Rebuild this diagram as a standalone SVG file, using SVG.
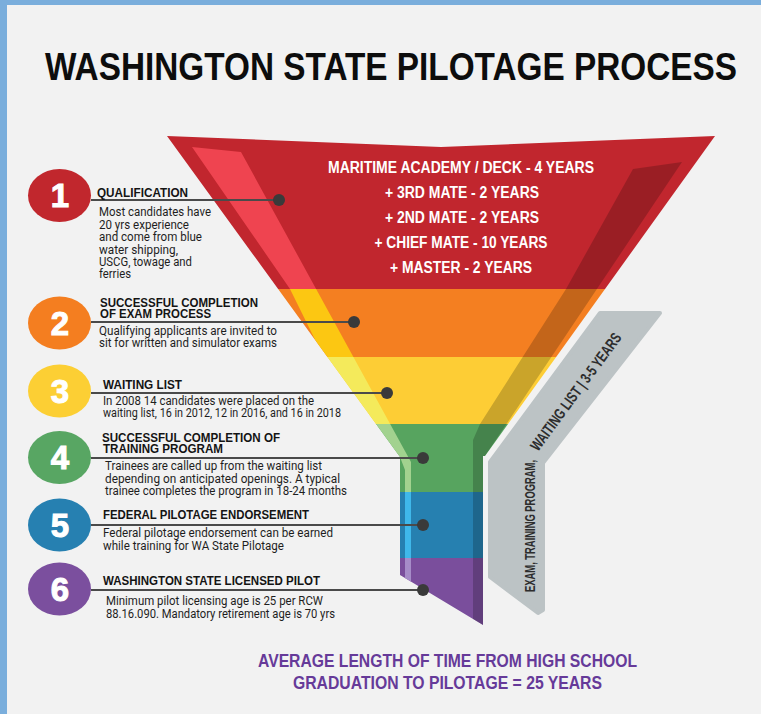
<svg xmlns="http://www.w3.org/2000/svg" width="761" height="714" viewBox="0 0 761 714">
<defs>
<style>
.hd{font-family:"Liberation Sans",Arial,sans-serif;font-weight:bold;font-size:12.5px;fill:#141414}
.ds{font-family:Roboto,"Liberation Sans",Arial,sans-serif;font-size:12px;fill:#1e1e1e}
.num{font-family:"Liberation Sans",Arial,sans-serif;font-weight:bold;font-size:33px;fill:#fff;text-anchor:middle;stroke:#fff;stroke-width:1}
.ft{font-family:"Liberation Sans",Arial,sans-serif;font-weight:bold;font-size:16px;fill:#fff;text-anchor:middle}
.gt{font-family:"Liberation Sans",Arial,sans-serif;font-weight:bold;font-size:15.5px;fill:#2d2d2d}
.ln{stroke:#4a4a4a;stroke-width:1.8;fill:none}
.dot{fill:#3a3a3a}
</style>
<clipPath id="funnelClip"><path d="M167,136 L441,147 L715,136 L485,456 L483,456 L483,625 L400,575 L400,457 Z"/></clipPath>
<clipPath id="b1"><rect x="150" y="120" width="600" height="169"/></clipPath>
<clipPath id="b2"><rect x="150" y="289" width="600" height="68"/></clipPath>
<clipPath id="b3"><rect x="150" y="357" width="600" height="67"/></clipPath>
<clipPath id="b4"><rect x="150" y="424" width="600" height="68"/></clipPath>
<clipPath id="b5"><rect x="150" y="492" width="600" height="66"/></clipPath>
<clipPath id="b6"><rect x="150" y="558" width="600" height="90"/></clipPath>
<path id="hl" d="M192,147 L241,152 L411,462 L411,640 L405,640 L405,470 L400,457 L330,370 L290,289 Z"/>
</defs>

<rect x="0" y="0" width="761" height="714" fill="#f2f2f2"/>
<rect x="0" y="0" width="761" height="5" fill="#7aaedc"/>
<rect x="0" y="0" width="7" height="714" fill="#7aaedc"/>

<text id="title" transform="translate(45,80) scale(0.8,1)" x="0" y="0" textLength="865" lengthAdjust="spacingAndGlyphs" style="font-family:'Liberation Sans',Arial,sans-serif;font-weight:bold;font-size:39px;fill:#0d0d0d">WASHINGTON STATE PILOTAGE PROCESS</text>

<g id="funnel" clip-path="url(#funnelClip)">
  <rect x="150" y="120" width="600" height="169" fill="#c1262e"/>
  <rect x="150" y="289" width="600" height="68" fill="#f47f21"/>
  <rect x="150" y="357" width="600" height="67" fill="#fdcd35"/>
  <rect x="150" y="424" width="600" height="68" fill="#57a45f"/>
  <rect x="150" y="492" width="600" height="66" fill="#2680b0"/>
  <rect x="150" y="558" width="600" height="90" fill="#7a4e9c"/>
  <use href="#hl" fill="#ef4450" clip-path="url(#b1)"/>
  <use href="#hl" fill="#fcc712" clip-path="url(#b2)"/>
  <use href="#hl" fill="#f4ea5b" clip-path="url(#b3)"/>
  <use href="#hl" fill="#a2d28f" clip-path="url(#b4)"/>
  <use href="#hl" fill="#3fb8ea" clip-path="url(#b5)"/>
  <use href="#hl" fill="#a68cc8" clip-path="url(#b6)"/>
  <path d="M633,169 L682,162 L485,456 L483,640 L473,640 L473,440 L480,424 L566,289 Z" fill="#000" fill-opacity="0.2"/>
  <text class="ft" x="461" y="173" textLength="266" lengthAdjust="spacingAndGlyphs">MARITIME ACADEMY / DECK - 4 YEARS</text>
  <text class="ft" x="462" y="198" textLength="154" lengthAdjust="spacingAndGlyphs">+ 3RD MATE - 2 YEARS</text>
  <text class="ft" x="462" y="223" textLength="154" lengthAdjust="spacingAndGlyphs">+ 2ND MATE - 2 YEARS</text>
  <text class="ft" x="461" y="248" textLength="173" lengthAdjust="spacingAndGlyphs">+ CHIEF MATE - 10 YEARS</text>
  <text class="ft" x="461" y="273" textLength="142" lengthAdjust="spacingAndGlyphs">+ MASTER - 2 YEARS</text>
</g>

<g id="duration-bar">
  <path d="M600,313 L660,313 L543,463 L543,610 L538,613 L490,577 L490,462 Z" fill="#bcc3c5" stroke="#bcc3c5" stroke-width="4" stroke-linejoin="round"/>
  <text class="gt" transform="translate(535,592) rotate(-90)" textLength="132" lengthAdjust="spacingAndGlyphs">EXAM, TRAINING PROGRAM,</text>
  <text class="gt" transform="translate(538,452) rotate(-53.6)" textLength="142" lengthAdjust="spacingAndGlyphs">WAITING LIST | 3-5 YEARS</text>
</g>

<g id="connectors">
  <line class="ln" x1="91" y1="200" x2="279" y2="200"/><circle class="dot" cx="279" cy="200" r="6"/>
  <line class="ln" x1="91" y1="322" x2="354" y2="322"/><circle class="dot" cx="354" cy="322" r="6"/>
  <line class="ln" x1="91" y1="393" x2="387" y2="393"/><circle class="dot" cx="387" cy="393" r="6"/>
  <line class="ln" x1="91" y1="458" x2="423" y2="458"/><circle class="dot" cx="423" cy="458" r="6"/>
  <line class="ln" x1="91" y1="525" x2="423" y2="525"/><circle class="dot" cx="423" cy="525" r="6"/>
  <line class="ln" x1="91" y1="590" x2="423" y2="590"/><circle class="dot" cx="423" cy="590" r="6"/>
</g>

<g id="node-1">
  <ellipse cx="59.5" cy="195.5" rx="31.5" ry="26.5" fill="#c1272d"/>
  <text class="num" x="60" y="207">1</text>
  <text class="hd" x="97" y="197" textLength="91" lengthAdjust="spacingAndGlyphs">QUALIFICATION</text>
  <text class="ds" x="99" y="216" textLength="112" lengthAdjust="spacingAndGlyphs">Most candidates have</text>
  <text class="ds" x="99" y="228.5" textLength="90" lengthAdjust="spacingAndGlyphs">20 yrs experience</text>
  <text class="ds" x="99" y="241" textLength="103" lengthAdjust="spacingAndGlyphs">and come from blue</text>
  <text class="ds" x="99" y="253.5" textLength="79" lengthAdjust="spacingAndGlyphs">water shipping,</text>
  <text class="ds" x="99" y="266" textLength="93" lengthAdjust="spacingAndGlyphs">USCG, towage and</text>
  <text class="ds" x="99" y="278" textLength="32" lengthAdjust="spacingAndGlyphs">ferries</text>
</g>

<g id="node-2">
  <ellipse cx="59.5" cy="323" rx="31.5" ry="26.5" fill="#f47e20"/>
  <text class="num" x="60" y="334.5">2</text>
  <text class="hd" x="100" y="307" textLength="158" lengthAdjust="spacingAndGlyphs">SUCCESSFUL COMPLETION</text>
  <text class="hd" x="100" y="318" textLength="111" lengthAdjust="spacingAndGlyphs">OF EXAM PROCESS</text>
  <text class="ds" x="99" y="335" textLength="178" lengthAdjust="spacingAndGlyphs">Qualifying applicants are invited to</text>
  <text class="ds" x="99" y="347" textLength="178" lengthAdjust="spacingAndGlyphs">sit for written and simulator exams</text>
</g>

<g id="node-3">
  <ellipse cx="59.5" cy="391" rx="31.5" ry="26.5" fill="#fccf34"/>
  <text class="num" x="60" y="402.5">3</text>
  <text class="hd" x="103" y="389" textLength="79" lengthAdjust="spacingAndGlyphs">WAITING LIST</text>
  <text class="ds" x="103" y="405" textLength="211" lengthAdjust="spacingAndGlyphs">In 2008 14 candidates were placed on the</text>
  <text class="ds" x="103" y="417" textLength="238" lengthAdjust="spacingAndGlyphs">waiting list, 16 in 2012, 12 in 2016, and 16 in 2018</text>
</g>

<g id="node-4">
  <ellipse cx="59.5" cy="457.5" rx="31.5" ry="26.5" fill="#58a663"/>
  <text class="num" x="60" y="469">4</text>
  <text class="hd" x="102" y="442" textLength="178" lengthAdjust="spacingAndGlyphs">SUCCESSFUL COMPLETION OF</text>
  <text class="hd" x="103" y="453" textLength="120" lengthAdjust="spacingAndGlyphs">TRAINING PROGRAM</text>
  <text class="ds" x="105" y="470" textLength="217" lengthAdjust="spacingAndGlyphs">Trainees are called up from the waiting list</text>
  <text class="ds" x="105" y="482.5" textLength="235" lengthAdjust="spacingAndGlyphs">depending on anticipated  openings. A typical</text>
  <text class="ds" x="105" y="495" textLength="242" lengthAdjust="spacingAndGlyphs">trainee completes the program in 18-24 months</text>
</g>

<g id="node-5">
  <ellipse cx="59.5" cy="525" rx="31.5" ry="26.5" fill="#2680b1"/>
  <text class="num" x="60" y="536.5">5</text>
  <text class="hd" x="103" y="519" textLength="206" lengthAdjust="spacingAndGlyphs">FEDERAL PILOTAGE ENDORSEMENT</text>
  <text class="ds" x="103" y="537" textLength="230" lengthAdjust="spacingAndGlyphs">Federal pilotage endorsement can be earned</text>
  <text class="ds" x="103" y="549.5" textLength="181" lengthAdjust="spacingAndGlyphs">while training for WA State Pilotage</text>
</g>

<g id="node-6">
  <ellipse cx="59.5" cy="589" rx="31.5" ry="26.5" fill="#7b4f9e"/>
  <text class="num" x="60" y="600.5">6</text>
  <text class="hd" x="103" y="585" textLength="217" lengthAdjust="spacingAndGlyphs">WASHINGTON STATE LICENSED PILOT</text>
  <text class="ds" x="106" y="605" textLength="217" lengthAdjust="spacingAndGlyphs">Minimum pilot licensing age is 25 per RCW</text>
  <text class="ds" x="106" y="617.5" textLength="229" lengthAdjust="spacingAndGlyphs">88.16.090. Mandatory retirement age is 70 yrs</text>
</g>

<g id="footer" style="font-family:'Liberation Sans',Arial,sans-serif;font-weight:bold;font-size:19px;fill:#663a99">
  <text x="258" y="667" textLength="379" lengthAdjust="spacingAndGlyphs">AVERAGE LENGTH OF TIME FROM HIGH SCHOOL</text>
  <text x="293" y="689" textLength="309" lengthAdjust="spacingAndGlyphs">GRADUATION TO PILOTAGE = 25 YEARS</text>
</g>
</svg>
